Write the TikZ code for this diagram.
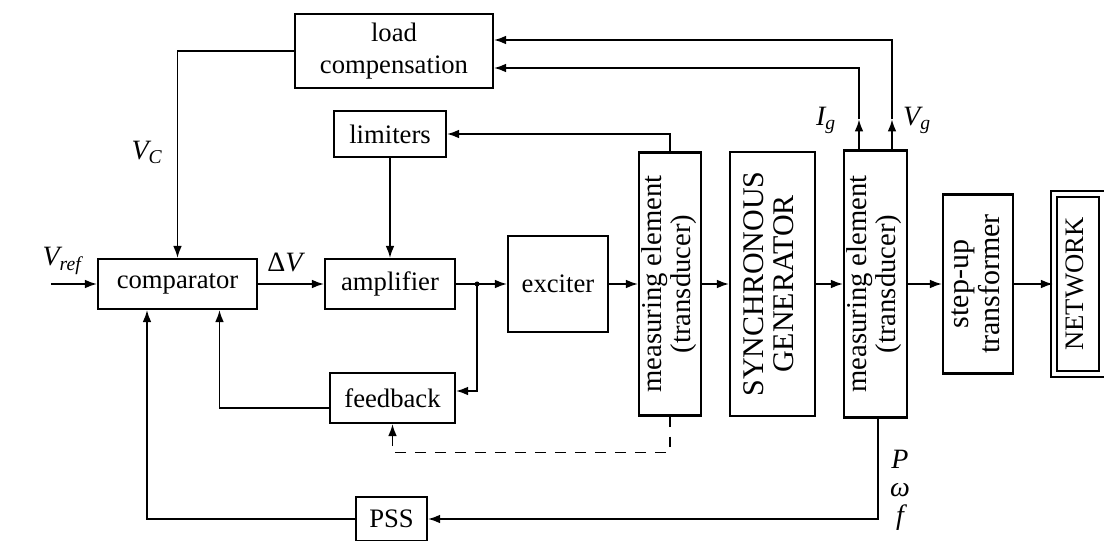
\documentclass[tikz,border=0pt]{standalone}
\usepackage{fontspec}
\setmainfont{Liberation Serif}
\usepackage{graphicx}
\usetikzlibrary{arrows.meta}
\usetikzlibrary{calc}
\usetikzlibrary{positioning}

\newcommand{\blockfont}{\fontsize{20}{24}\selectfont}
\newcommand{\sigfont}{\fontsize{21}{24}\selectfont\itshape}
\newcommand{\vtext}[2][22]{\rotatebox{90}{\fontsize{#1}{#1}\selectfont\begin{tabular}{@{}c@{}}#2\end{tabular}}}

\begin{document}
\begin{tikzpicture}[x=0.75pt, y=-0.75pt,
        block/.style={draw, line width=1.6pt, inner sep=0pt, align=center, font=\blockfont},
        wire/.style={line width=1.2pt},
        arr/.style={wire, -{Latex[length=9pt,width=6.5pt]}},
        sig/.style={font=\sigfont, inner sep=0pt}]

        \useasboundingbox (0,0) rectangle (1104,540);

        % main chain, all on one line
        \node [block, minimum width=119.25pt, minimum height=37.5pt] (comp) at (177.5,284) {comparator};
        \node [block, minimum width=97.5pt, minimum height=37.5pt] (amp) at (390,284) {amplifier};
        \node [block, minimum width=75pt, minimum height=72pt] (exciter) at (558,284) {exciter};
        \node [block, minimum width=46.5pt, minimum height=197.25pt] (me1) at (670,284) {\vtext[21.5]{measuring element\\(transducer)}};
        \node [block, minimum width=63.75pt, minimum height=198pt] (sg) at (772.5,284) {\vtext[22.5]{SYNCHRONOUS\\GENERATOR}};
        \node [block, minimum width=47.25pt, minimum height=200.25pt] (me2) at (875.5,284) {\vtext[21.5]{measuring element\\(transducer)}};
        \node [block, minimum width=52.5pt, minimum height=134.25pt] (stepup) at (978,284) {\vtext[22.5]{step-up\\transformer}};
        \node [block, double, double distance=3.5pt, minimum width=36pt, minimum height=135pt] (net) at (1078,284) {\vtext[20]{NETWORK}};

        % side blocks
        \node [block, minimum width=148.5pt, minimum height=55.5pt] (lc) at (394,51) {load\\compensation};
        \node [block, minimum width=84pt, minimum height=34.5pt] (lim) at (390,134) {limiters};
        \node [block, minimum width=93.75pt, minimum height=37.5pt] (fb) at (392.5,398) {feedback};
        \node [block, minimum width=53.25pt, minimum height=33pt] (pss) at (391.5,519) {PSS};

        % signal names
        \node [sig] (vref) at (62,261) {V\textsubscript{ref}};
        \node [sig] (vc) at (147,152) {V\textsubscript{C}};
        \node [sig] (dv) at (285,262) {\upshape Δ\itshape V};
        \node [sig] (lbl_ig) at (826,120) {I\textsubscript{g}};
        \node [sig] (lbl_vg) at (917,120) {V\textsubscript{g}};
        \node [sig, align=center] (pwf) at (900,490) {P\\[-3pt]ω\\[-3pt]f};

        % forward path
        \coordinate (vrefin) at ($(comp.west)+(-46,0)$);
        \draw [arr] (vrefin) -- (comp);
        \foreach \a/\b in {comp/amp, amp/exciter, exciter/me1, me1/sg, sg/me2, me2/stepup, stepup/net} {
            \draw [arr] (\a) -- (\b);
        }

        % feedback loop
        \coordinate (jct) at ($(amp.east)+(21,0)$);
        \fill (jct) circle (1.9pt);
        \draw [arr] (jct) |- ($(fb.east)+(0,-7)$);
        \draw [arr] ($(fb.west)+(0,10)$) -| ($(comp.south)+(42,0)$);
        \draw [arr, dash pattern=on 8pt off 7pt] (me1.south) -- ++(0,36) -| (fb.south);

        % limiters
        \draw [arr] (me1.north) |- (lim.east);
        \draw [arr] (lim.south) -- (amp.north);

        % load compensation
        \draw [arr] (lc.west) -| (comp.north);
        \coordinate (igtip) at ($(me2.north)+(-16.5,-30)$);
        \coordinate (vgtip) at ($(me2.north)+(16.5,-30)$);
        \draw [arr] (me2.north -| igtip) -- (igtip);
        \draw [arr] (igtip) |- ($(lc.east)+(0,17)$);
        \draw [arr] (me2.north -| vgtip) -- (vgtip);
        \draw [arr] (vgtip) |- ($(lc.east)+(0,-11)$);

        % stabilizer
        \draw [arr] ($(me2.south)+(2.5,0)$) |- (pss.east);
        \draw [arr] (pss.west) -| ($(comp.south)+(-30.5,0)$);

\end{tikzpicture}
\end{document}
